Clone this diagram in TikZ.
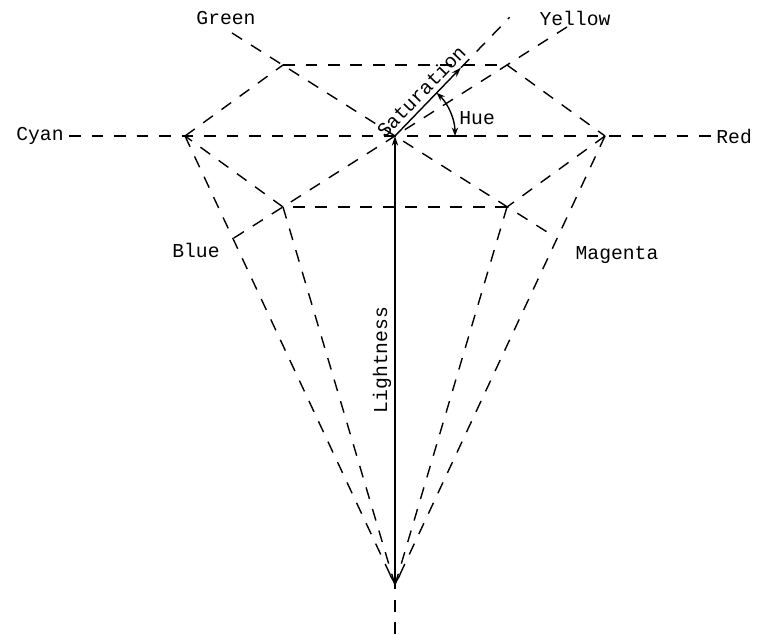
\documentclass[tikz,border=0pt]{standalone}
\usepackage{fontspec}
\newfontfamily\plotfont{Liberation Mono}
\usetikzlibrary{arrows.meta}

\tikzset{
  construct/.style={dash pattern=on 8.5pt off 7.5pt},
  every node/.style={font=\plotfont\fontsize{14}{16}\selectfont},
}

\begin{document}
\begin{tikzpicture}[x=0.025cm,y=0.025cm,line width=1pt]
\useasboundingbox (0,0) rectangle (759,634);

% centre of the hexagon, apex of the cone
\coordinate (o) at (395,498);
\coordinate (apex) at (395,49);
\coordinate (foot) at (395,0);

% corners of the hexagon
\coordinate (red) at (605,498);
\coordinate (yellow) at (507,569);
\coordinate (green) at (283,569);
\coordinate (cyan) at (185,498);
\coordinate (blue) at (283,427);
\coordinate (magenta) at (507,427);

% free ends of the lines through the centre
\coordinate (gtop) at (232,601);
\coordinate (mbot) at (555,397);
\coordinate (ytop) at (567,607);
\coordinate (bbot) at (226,391);

\node (lcyan) at (40,498) {Cyan};
\node[anchor=west] (lred) at (711,498) {Red};
\node (lgreen) at (226,616) {Green};
\node (lyellow) at (575,616) {Yellow};
\node (lblue) at (196,384) {Blue};
\node (lmagenta) at (617,379) {Magenta};

\draw[construct] (lcyan) -- (lred);
\draw[construct] (gtop) -- (mbot);
\draw[construct] (ytop) -- (bbot);

% hexagon
\foreach \a/\b in {cyan/green,green/yellow,yellow/red,red/magenta,magenta/blue,blue/cyan}
  \draw[construct] (\a) -- (\b);

% cone
\foreach \v in {cyan,blue,magenta,red}
  \draw[construct] (\v) -- (apex);
\draw[construct] (foot) -- (apex);

% lightness
\draw[{Straight Barb[length=6pt,width=7pt]}-{Stealth[length=7pt,width=4.5pt]}] (apex) -- (o);
\node[rotate=90] (llight) at (382,274) {Lightness};

% saturation
\path (o) ++(46:95) coordinate (sat);
\path (o) ++(46:165) coordinate (satend);
\draw[-{Stealth[length=7pt,width=4.5pt]}] (o) -- (sat);
\draw[construct] (sat) -- (satend);
\path (o) ++(46:50) node[rotate=46, anchor=south, inner sep=3pt] (lsat) {Saturation};

% hue
\draw[{Stealth[length=6pt,width=4.5pt]}-{Stealth[length=6pt,width=4.5pt]}] (o) ++(46:60) arc[start angle=46, end angle=0, radius=60];
\draw (o) ++(52,0) -- ++(20,0);
\node[anchor=west] (lhue) at (454,516) {Hue};

\end{tikzpicture}
\end{document}
